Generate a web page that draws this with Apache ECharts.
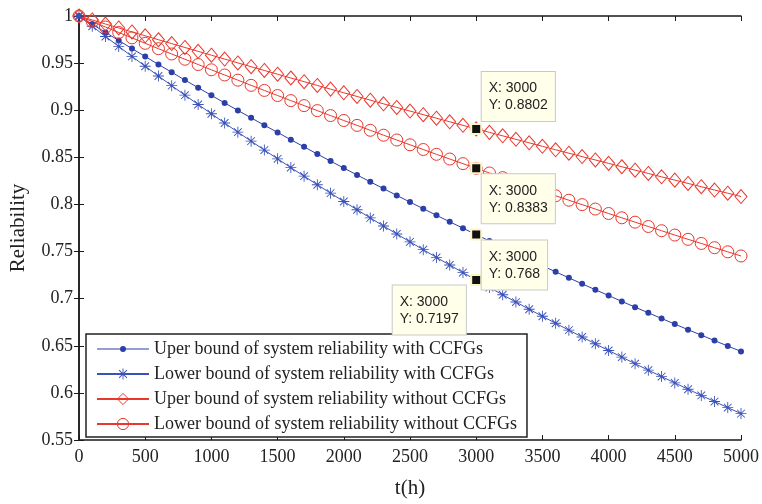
<!DOCTYPE html>
<html>
<head>
<meta charset="utf-8">
<script src="https://cdn.jsdelivr.net/npm/echarts@6/dist/echarts.min.js"></script>
<style>
  html, body { margin: 0; padding: 0; background: #fff; }
  #chart { width: 762px; height: 504px; }
</style>
</head>
<body>
<div id="chart"></div>
<script>
// t in hours, one sample every 100 h
const hours = [
  0, 100, 200, 300, 400, 500, 600, 700, 800, 900,
  1000, 1100, 1200, 1300, 1400, 1500, 1600, 1700, 1800, 1900,
  2000, 2100, 2200, 2300, 2400, 2500, 2600, 2700, 2800, 2900,
  3000, 3100, 3200, 3300, 3400, 3500, 3600, 3700, 3800, 3900,
  4000, 4100, 4200, 4300, 4400, 4500, 4600, 4700, 4800, 4900, 5000
];

const upperWith = [
  1.0000, 0.9912, 0.9826, 0.9740, 0.9654, 0.9570, 0.9486, 0.9403, 0.9320, 0.9239,
  0.9158, 0.9077, 0.8998, 0.8919, 0.8841, 0.8764, 0.8687, 0.8611, 0.8535, 0.8460,
  0.8386, 0.8313, 0.8240, 0.8168, 0.8096, 0.8025, 0.7955, 0.7885, 0.7816, 0.7748,
  0.7680, 0.7612, 0.7546, 0.7480, 0.7414, 0.7349, 0.7285, 0.7221, 0.7157, 0.7095,
  0.7033, 0.6971, 0.6910, 0.6850, 0.6790, 0.6730, 0.6671, 0.6613, 0.6555, 0.6497, 0.6440
];

const lowerWith = [
  1.0000, 0.9891, 0.9783, 0.9677, 0.9571, 0.9467, 0.9363, 0.9261, 0.9160, 0.9061,
  0.8962, 0.8864, 0.8767, 0.8672, 0.8577, 0.8484, 0.8391, 0.8300, 0.8209, 0.8120,
  0.8031, 0.7944, 0.7857, 0.7771, 0.7687, 0.7603, 0.7520, 0.7438, 0.7357, 0.7277,
  0.7197, 0.7119, 0.7041, 0.6964, 0.6888, 0.6813, 0.6739, 0.6666, 0.6593, 0.6521,
  0.6450, 0.6380, 0.6310, 0.6241, 0.6173, 0.6106, 0.6039, 0.5973, 0.5908, 0.5844, 0.5780
];

const upperWithout = [
  1.0000, 0.9958, 0.9915, 0.9873, 0.9831, 0.9790, 0.9748, 0.9707, 0.9666, 0.9625,
  0.9584, 0.9543, 0.9502, 0.9462, 0.9422, 0.9382, 0.9342, 0.9303, 0.9263, 0.9224,
  0.9185, 0.9146, 0.9107, 0.9068, 0.9030, 0.8991, 0.8953, 0.8915, 0.8877, 0.8840,
  0.8802, 0.8765, 0.8728, 0.8691, 0.8654, 0.8617, 0.8580, 0.8544, 0.8508, 0.8472,
  0.8436, 0.8400, 0.8364, 0.8329, 0.8293, 0.8258, 0.8223, 0.8188, 0.8153, 0.8119, 0.8084
];

const lowerWithout = [
  1.0000, 0.9941, 0.9883, 0.9825, 0.9768, 0.9710, 0.9653, 0.9597, 0.9541, 0.9485,
  0.9429, 0.9374, 0.9319, 0.9264, 0.9210, 0.9156, 0.9102, 0.9049, 0.8996, 0.8943,
  0.8891, 0.8839, 0.8787, 0.8735, 0.8684, 0.8633, 0.8583, 0.8532, 0.8482, 0.8433,
  0.8383, 0.8334, 0.8285, 0.8236, 0.8188, 0.8140, 0.8092, 0.8045, 0.7998, 0.7951,
  0.7904, 0.7858, 0.7812, 0.7766, 0.7721, 0.7675, 0.7630, 0.7586, 0.7541, 0.7497, 0.7453
];

const seriesNames = [
  "Uper bound of system reliability with CCFGs",
  "Lower bound of system reliability with CCFGs",
  "Uper bound of system reliability without CCFGs",
  "Lower bound of system reliability without CCFGs"
];

// data tips at t = 3000
const tipX = 3000;
const tipY = [0.768, 0.7197, 0.8802, 0.8383];

const blue = "#2c3fa9";
const blue2 = "#3b52b9";
const red = "#e8382d";
const serif = "Liberation Serif";

const asterisk =
  "path://M9.2 0L10.8 0L10.8 20L9.2 20Z" +
  "M0 9.2L20 9.2L20 10.8L0 10.8Z" +
  "M2.4 3.6L3.6 2.4L17.6 16.4L16.4 17.6Z" +
  "M16.4 2.4L17.6 3.6L3.6 17.6L2.4 16.4Z";

// legend icon for the dotted series: line + small dot, box 52x14
const dotLegendIcon =
  "path://M0 0L0.01 0L0 0.01Z M52 14L51.99 14L52 13.99Z" +
  "M0 6.4L52 6.4L52 7.6L0 7.6Z" +
  "M29 7A3 3 0 1 1 23 7A3 3 0 1 1 29 7Z";

function pairs(ys) {
  return hours.map((h, i) => [h, ys[i]]);
}

function tip(y, pos) {
  return {
    symbol: "rect",
    symbolSize: 10,
    silent: true,
    itemStyle: { color: "#111", borderColor: "#fbf6c8", borderWidth: 2 },
    label: {
      show: true,
      position: pos,
      align: "left",
      verticalAlign: "top",
      formatter: "X: " + tipX + "\nY: " + y,
      fontFamily: "Liberation Sans",
      fontSize: 14,
      lineHeight: 17,
      color: "#222",
      backgroundColor: "#ffffea",
      borderColor: "#c9c9c9",
      borderWidth: 1,
      padding: [8, 7, 7, 7]
    },
    data: [{ coord: [tipX, y] }]
  };
}

const chart = echarts.init(document.getElementById("chart"), null, {
  renderer: "canvas"
});

const axisLine = { show: true, lineStyle: { color: "#1a1a1a", width: 1.5 } };
const axisTick = { show: true, inside: true, length: 5, lineStyle: { color: "#1a1a1a", width: 1 } };

const option = {
  animation: false,
  backgroundColor: "#fff",
  grid: { left: 78, right: 20, top: 16, bottom: 61, containLabel: false },
  legend: {
    orient: "vertical",
    left: 86,
    top: 334,
    backgroundColor: "#fff",
    borderColor: "#222",
    borderWidth: 1.5,
    borderRadius: 0,
    padding: [6, 10, 4, 10],
    itemWidth: 52,
    itemHeight: 14,
    itemGap: 7,
    itemStyle: { borderWidth: 1 },
    textStyle: { fontFamily: serif, fontSize: 18, lineHeight: 18, color: "#222" },
    data: [
      { name: seriesNames[0], icon: dotLegendIcon, itemStyle: { color: blue, borderWidth: 0 } },
      { name: seriesNames[1] },
      { name: seriesNames[2] },
      { name: seriesNames[3] }
    ]
  },
  xAxis: [
    {
      type: "value",
      min: 0,
      max: 5000,
      interval: 500,
      name: "t(h)",
      nameLocation: "middle",
      nameGap: 38,
      nameTextStyle: { fontFamily: serif, fontSize: 21, color: "#222" },
      axisLine: axisLine,
      axisTick: axisTick,
      splitLine: { show: false },
      axisLabel: {
        fontFamily: serif,
        fontSize: 18,
        color: "#222",
        margin: 8,
        formatter: (v) => String(v)
      }
    },
    {
      type: "value",
      position: "top",
      min: 0,
      max: 5000,
      interval: 500,
      axisLine: axisLine,
      axisTick: axisTick,
      splitLine: { show: false },
      axisLabel: { show: false }
    }
  ],
  yAxis: [
    {
      type: "value",
      min: 0.55,
      max: 1,
      interval: 0.05,
      name: "Reliability",
      nameLocation: "middle",
      nameGap: 50,
      nameTextStyle: { fontFamily: serif, fontSize: 21, color: "#222" },
      axisLine: axisLine,
      axisTick: axisTick,
      splitLine: { show: false },
      axisLabel: {
        fontFamily: serif,
        fontSize: 18,
        color: "#222",
        margin: 6,
        formatter: (v) => String(Math.round(v * 100) / 100)
      }
    },
    {
      type: "value",
      position: "right",
      min: 0.55,
      max: 1,
      interval: 0.05,
      axisLine: axisLine,
      axisTick: axisTick,
      splitLine: { show: false },
      axisLabel: { show: false }
    }
  ],
  series: [
    {
      name: seriesNames[0],
      type: "line",
      data: pairs(upperWith),
      symbol: "circle",
      symbolSize: 6,
      itemStyle: { color: blue },
      lineStyle: { color: blue, width: 1 },
      markPoint: tip(tipY[0], [11.5, 12])
    },
    {
      name: seriesNames[1],
      type: "line",
      data: pairs(lowerWith),
      symbol: asterisk,
      symbolSize: 11,
      itemStyle: { color: blue2 },
      lineStyle: { color: blue2, width: 1 },
      markPoint: tip(tipY[1], [-77.5, 11.5])
    },
    {
      name: seriesNames[2],
      type: "line",
      data: pairs(upperWithout),
      symbol: "diamond",
      symbolSize: [12, 14],
      itemStyle: { color: "rgba(255,255,255,0)", borderColor: red, borderWidth: 1 },
      lineStyle: { color: red, width: 1 },
      markPoint: tip(tipY[2], [11.5, -51])
    },
    {
      name: seriesNames[3],
      type: "line",
      data: pairs(lowerWithout),
      symbol: "circle",
      symbolSize: 12,
      itemStyle: { color: "rgba(255,255,255,0)", borderColor: red, borderWidth: 1 },
      lineStyle: { color: red, width: 1 },
      markPoint: tip(tipY[3], [11.5, 12])
    }
  ]
};

chart.setOption(option);
</script>
</body>
</html>
